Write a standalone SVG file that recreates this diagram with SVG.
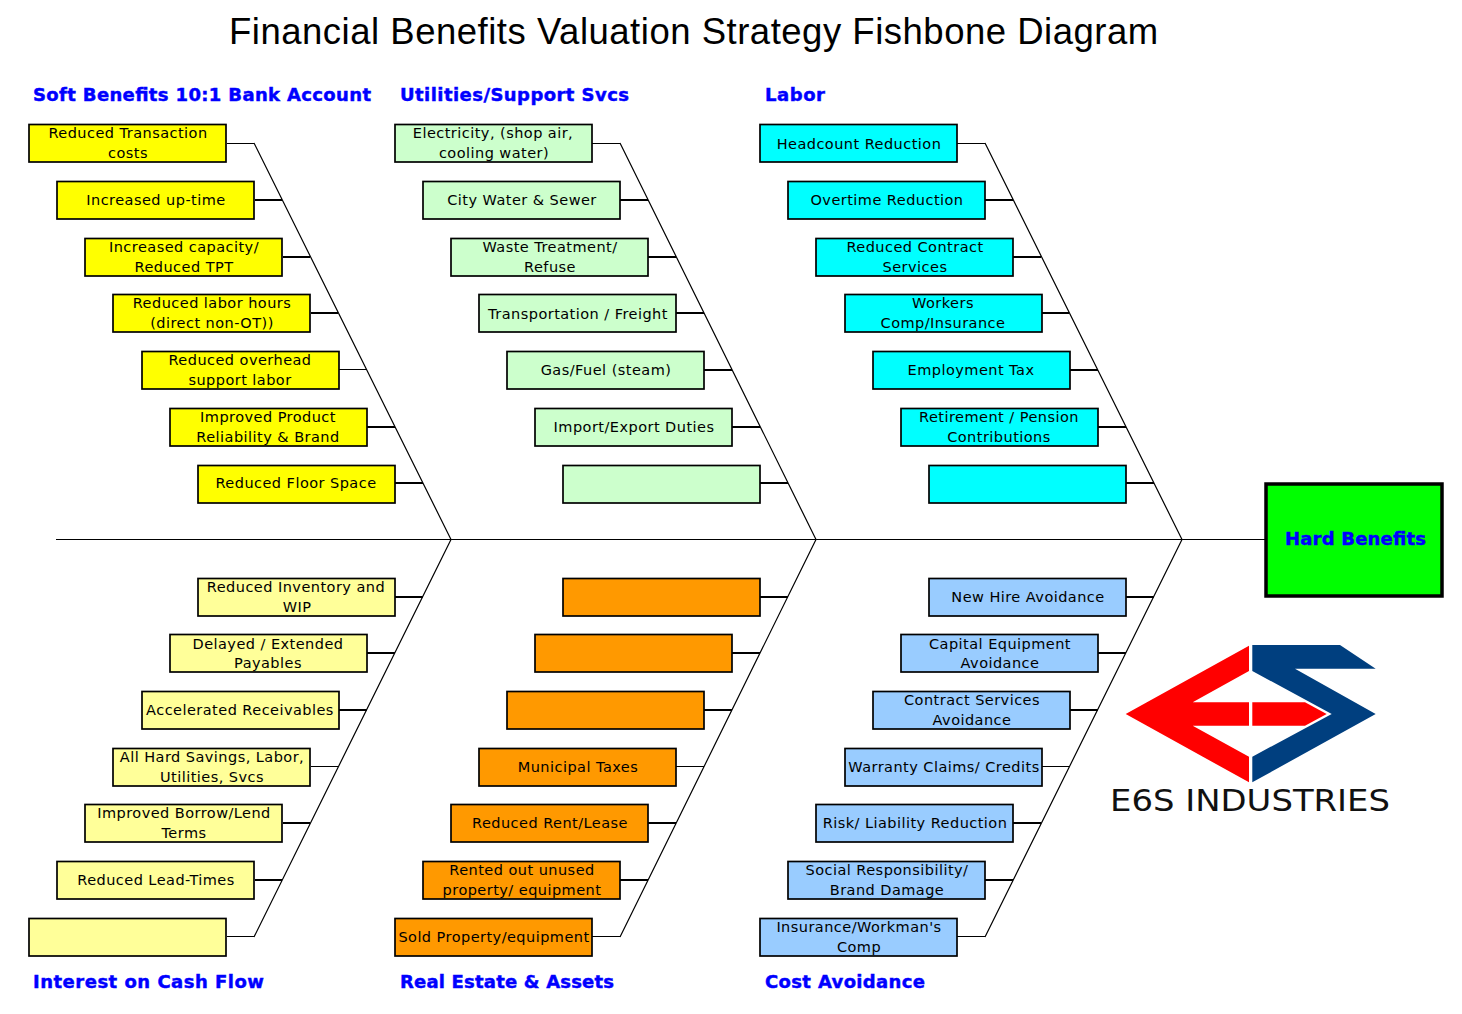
<svg xmlns="http://www.w3.org/2000/svg" width="1462" height="1014" viewBox="0 0 1462 1014">
<style>
text{font-family:"DejaVu Sans",Verdana,sans-serif;font-size:14.5px;letter-spacing:.46px;fill:#000;text-anchor:middle}
.h{font-weight:bold;font-size:18px;letter-spacing:0;fill:#00f;stroke:#00f;stroke-width:.45;text-anchor:start}
.t{font-family:"Liberation Sans",Arial,sans-serif;font-size:36.5px;letter-spacing:.51px;text-anchor:start}
rect{stroke:#000;stroke-width:1.7;width:197px;height:37.5px;transform:translateY(.5px)}
.a{fill:#ff0}.b{fill:#cfc}.c{fill:#0ff}.d{fill:#ff9}.e{fill:#f90}.f{fill:#9cf}
#connectors path{fill:none;stroke:#000;stroke-width:1.2}
#connectors .r{stroke-width:2}
#connectors .s{stroke-width:1}
</style>
<rect width="1462" height="1014" style="width:1462px;height:1014px;fill:#fff;stroke:none;transform:none"/>
<text class="t" x="229" y="44">Financial Benefits Valuation Strategy Fishbone Diagram</text>
<text class="h" x="33" y="101" textLength="338">Soft Benefits 10:1 Bank Account</text>
<text class="h" x="400" y="101" textLength="229">Utilities/Support Svcs</text>
<text class="h" x="765" y="101" textLength="60">Labor</text>
<text class="h" x="33" y="988" textLength="231">Interest on Cash Flow</text>
<text class="h" x="400" y="988" textLength="214">Real Estate &amp; Assets</text>
<text class="h" x="765" y="988" textLength="160">Cost Avoidance</text>
<g id="connectors">
<path d="M254 143L451 539.5L254 937M620 143L816 539.5L620 937M985 143L1182 539.5L985 937"/>
<path class="s" d="M56 539.5H1265"/>
<path class="s" d="M227 143.5H254M592 143.5H620M957 143.5H985M339 369.5H367M311 766.5H338M676 766.5H704M1041 766.5H1069M227 936.5H254M592 936.5H620M957 936.5H985"/>
<path class="r" d="M255 200H282M283 257H310M311 313H338M367 427H395M395 483H423"/>
<path class="r" d="M620 200H648M648 257H676M676 313H704M704 370H732M732 427H760M760 483H788"/>
<path class="r" d="M985 200H1013M1013 257H1041M1041 313H1069M1070 370H1098M1098 427H1126M1126 483H1154"/>
<path class="r" d="M395 597H423M367 653H395M339 710H367M283 823H310M255 880H282"/>
<path class="r" d="M760 597H788M732 653H760M704 710H732M648 823H676M620 880H648"/>
<path class="r" d="M1126 597H1154M1098 653H1126M1070 710H1098M1013 823H1041M985 880H1013"/>
</g>
<g id="s1"><rect class="a" x="29" y="124"/><text x="128" y="138">Reduced Transaction</text><text x="128" y="158">costs</text></g>
<g id="s2"><rect class="a" x="57" y="181"/><text x="156" y="205">Increased up-time</text></g>
<g id="s3"><rect class="a" x="85" y="238"/><text x="184" y="252">Increased capacity/</text><text x="184" y="272">Reduced TPT</text></g>
<g id="s4"><rect class="a" x="113" y="294"/><text x="212" y="308">Reduced labor hours</text><text x="212" y="328">(direct non-OT))</text></g>
<g id="s5"><rect class="a" x="142" y="351"/><text x="240" y="365">Reduced overhead</text><text x="240" y="385">support labor</text></g>
<g id="s6"><rect class="a" x="170" y="408"/><text x="268" y="422">Improved Product</text><text x="268" y="442">Reliability &amp; Brand</text></g>
<g id="s7"><rect class="a" x="198" y="465"/><text x="296" y="488">Reduced Floor Space</text></g>
<g id="u1"><rect class="b" x="395" y="124"/><text x="493" y="138">Electricity, (shop air,</text><text x="494" y="158">cooling water)</text></g>
<g id="u2"><rect class="b" x="423" y="181"/><text x="522" y="205">City Water &amp; Sewer</text></g>
<g id="u3"><rect class="b" x="451" y="238"/><text x="550" y="252">Waste Treatment/</text><text x="550" y="272">Refuse</text></g>
<g id="u4"><rect class="b" x="479" y="294"/><text x="578" y="319">Transportation / Freight</text></g>
<g id="u5"><rect class="b" x="507" y="351"/><text x="606" y="375">Gas/Fuel (steam)</text></g>
<g id="u6"><rect class="b" x="535" y="408"/><text x="634" y="432">Import/Export Duties</text></g>
<g id="u7"><rect class="b" x="563" y="465"/></g>
<g id="l1"><rect class="c" x="760" y="124"/><text x="859" y="149">Headcount Reduction</text></g>
<g id="l2"><rect class="c" x="788" y="181"/><text x="887" y="205">Overtime Reduction</text></g>
<g id="l3"><rect class="c" x="816" y="238"/><text x="915" y="252">Reduced Contract</text><text x="915" y="272">Services</text></g>
<g id="l4"><rect class="c" x="845" y="294"/><text x="943" y="308">Workers</text><text x="943" y="328">Comp/Insurance</text></g>
<g id="l5"><rect class="c" x="873" y="351"/><text x="971" y="375">Employment Tax</text></g>
<g id="l6"><rect class="c" x="901" y="408"/><text x="999" y="422">Retirement / Pension</text><text x="999" y="442">Contributions</text></g>
<g id="l7"><rect class="c" x="929" y="465"/></g>
<g id="i1"><rect class="d" x="198" y="578"/><text x="296" y="592">Reduced Inventory and</text><text x="297" y="612">WIP</text></g>
<g id="i2"><rect class="d" x="170" y="634"/><text x="268" y="649">Delayed / Extended</text><text x="268" y="668">Payables</text></g>
<g id="i3"><rect class="d" x="142" y="691"/><text x="240" y="715">Accelerated Receivables</text></g>
<g id="i4"><rect class="d" x="113" y="748"/><text x="212" y="762">All Hard Savings, Labor,</text><text x="212" y="782">Utilities, Svcs</text></g>
<g id="i5"><rect class="d" x="85" y="804"/><text x="184" y="818">Improved Borrow/Lend</text><text x="184" y="838">Terms</text></g>
<g id="i6"><rect class="d" x="57" y="861"/><text x="156" y="885">Reduced Lead-Times</text></g>
<g id="i7"><rect class="d" x="29" y="918"/></g>
<g id="r1"><rect class="e" x="563" y="578"/></g>
<g id="r2"><rect class="e" x="535" y="634"/></g>
<g id="r3"><rect class="e" x="507" y="691"/></g>
<g id="r4"><rect class="e" x="479" y="748"/><text x="578" y="772">Municipal Taxes</text></g>
<g id="r5"><rect class="e" x="451" y="804"/><text x="550" y="828">Reduced Rent/Lease</text></g>
<g id="r6"><rect class="e" x="423" y="861"/><text x="522" y="875">Rented out unused</text><text x="522" y="895">property/ equipment</text></g>
<g id="r7"><rect class="e" x="395" y="918"/><text x="494" y="942">Sold Property/equipment</text></g>
<g id="c1"><rect class="f" x="929" y="578"/><text x="1028" y="602">New Hire Avoidance</text></g>
<g id="c2"><rect class="f" x="901" y="634"/><text x="1000" y="649">Capital Equipment</text><text x="1000" y="668">Avoidance</text></g>
<g id="c3"><rect class="f" x="873" y="691"/><text x="972" y="705">Contract Services</text><text x="972" y="725">Avoidance</text></g>
<g id="c4"><rect class="f" x="845" y="748"/><text x="944" y="772">Warranty Claims/ Credits</text></g>
<g id="c5"><rect class="f" x="816" y="804"/><text x="915" y="828">Risk/ Liability Reduction</text></g>
<g id="c6"><rect class="f" x="788" y="861"/><text x="887" y="875">Social Responsibility/</text><text x="887" y="895">Brand Damage</text></g>
<g id="c7"><rect class="f" x="760" y="918"/><text x="859" y="932">Insurance/Workman's</text><text x="859" y="952">Comp</text></g>
<g id="hard"><rect x="1266" y="484" style="width:176px;height:112px;fill:#0f0;stroke-width:3.5;transform:none"/><text class="h" x="1285" y="545" textLength="141">Hard Benefits</text></g>
<g id="logo">
<polygon fill="#f00" points="1249,645.7 1125.7,714 1249,782.3 1249,756.7 1192.7,725.7 1249,725.7 1249,702.3 1192.7,702.3 1249,671"/>
<polygon fill="#f00" points="1252.3,702.3 1305,702.3 1326.7,714 1305,725.7 1252.3,725.7"/>
<polygon fill="#003f7f" points="1252.3,645 1340,645 1375.7,668.7 1295,668.7 1375.7,714 1252.3,782.3 1252.3,756.7 1331.7,714 1252.3,671"/>
<text x="1110" y="811" textLength="280" lengthAdjust="spacingAndGlyphs" style="font-size:30px;letter-spacing:0;fill:#111;text-anchor:start">E6S INDUSTRIES</text>
</g>
</svg>
